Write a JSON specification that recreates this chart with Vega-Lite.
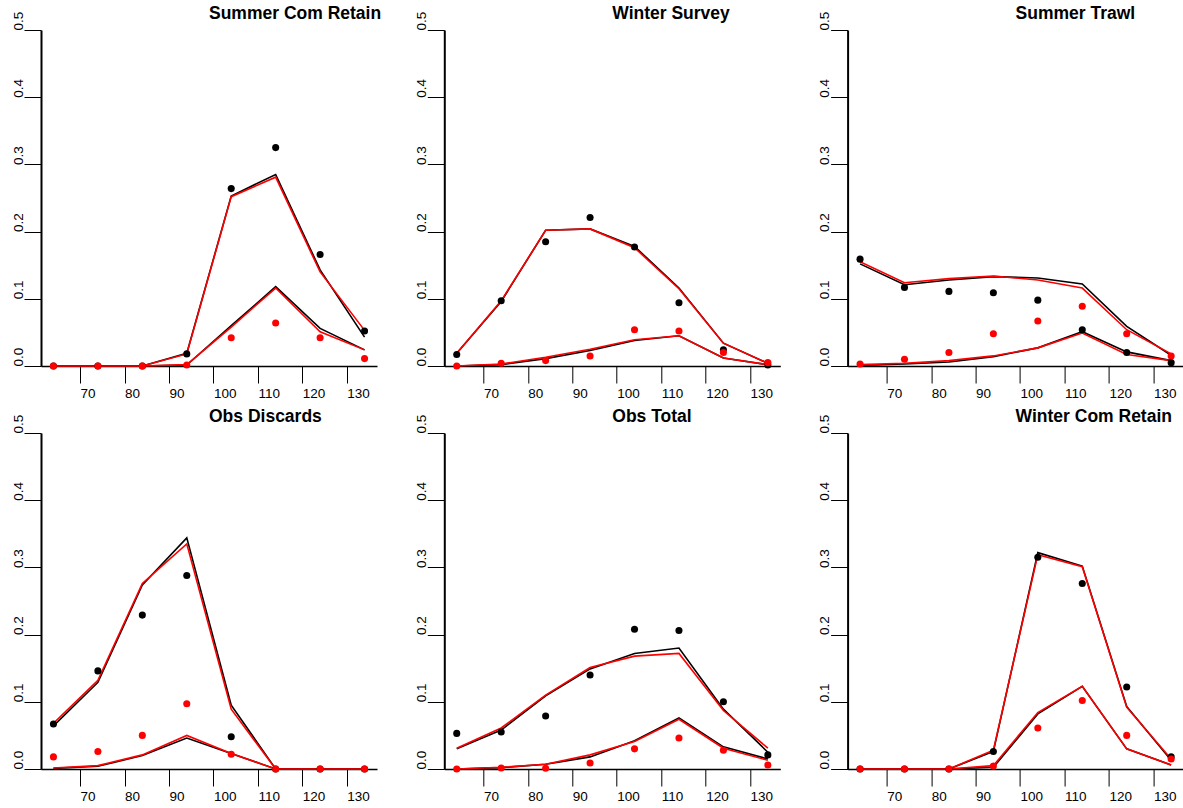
{
  "$schema": "https://vega.github.io/schema/vega-lite/v6.json",
  "background": "white",
  "padding": {"left": 10, "top": 4, "right": 0, "bottom": 0},
  "data": {
    "values": [
      {"panel": "Summer Com Retain", "set": 1, "len": 64, "obs": 0, "hi": 0, "lo": 0},
      {"panel": "Summer Com Retain", "set": 1, "len": 74, "obs": 0, "hi": 0, "lo": 0},
      {"panel": "Summer Com Retain", "set": 1, "len": 84, "obs": 0, "hi": 0, "lo": 0},
      {"panel": "Summer Com Retain", "set": 1, "len": 94, "obs": 0.018, "hi": 0.019, "lo": 0.0015},
      {"panel": "Summer Com Retain", "set": 1, "len": 104, "obs": 0.264, "hi": 0.253, "lo": 0.06},
      {"panel": "Summer Com Retain", "set": 1, "len": 114, "obs": 0.325, "hi": 0.285, "lo": 0.118},
      {"panel": "Summer Com Retain", "set": 1, "len": 124, "obs": 0.166, "hi": 0.143, "lo": 0.056},
      {"panel": "Summer Com Retain", "set": 1, "len": 134, "obs": 0.052, "hi": 0.043, "lo": 0.024},
      {"panel": "Summer Com Retain", "set": 2, "len": 64, "obs": 0, "hi": 0, "lo": 0},
      {"panel": "Summer Com Retain", "set": 2, "len": 74, "obs": 0, "hi": 0, "lo": 0},
      {"panel": "Summer Com Retain", "set": 2, "len": 84, "obs": 0, "hi": 0, "lo": 0},
      {"panel": "Summer Com Retain", "set": 2, "len": 94, "obs": 0.0015, "hi": 0.018, "lo": 0.002},
      {"panel": "Summer Com Retain", "set": 2, "len": 104, "obs": 0.042, "hi": 0.252, "lo": 0.058},
      {"panel": "Summer Com Retain", "set": 2, "len": 114, "obs": 0.064, "hi": 0.281, "lo": 0.116},
      {"panel": "Summer Com Retain", "set": 2, "len": 124, "obs": 0.042, "hi": 0.14, "lo": 0.051},
      {"panel": "Summer Com Retain", "set": 2, "len": 134, "obs": 0.011, "hi": 0.053, "lo": 0.024},

      {"panel": "Winter Survey", "set": 1, "len": 64, "obs": 0.017, "hi": 0.019, "lo": 0},
      {"panel": "Winter Survey", "set": 1, "len": 74, "obs": 0.097, "hi": 0.096, "lo": 0.002},
      {"panel": "Winter Survey", "set": 1, "len": 84, "obs": 0.185, "hi": 0.202, "lo": 0.011},
      {"panel": "Winter Survey", "set": 1, "len": 94, "obs": 0.221, "hi": 0.204, "lo": 0.023},
      {"panel": "Winter Survey", "set": 1, "len": 104, "obs": 0.177, "hi": 0.178, "lo": 0.038},
      {"panel": "Winter Survey", "set": 1, "len": 114, "obs": 0.094, "hi": 0.116, "lo": 0.045},
      {"panel": "Winter Survey", "set": 1, "len": 124, "obs": 0.024, "hi": 0.034, "lo": 0.012},
      {"panel": "Winter Survey", "set": 1, "len": 134, "obs": 0.0015, "hi": 0.004, "lo": 0.002},
      {"panel": "Winter Survey", "set": 2, "len": 64, "obs": 0, "hi": 0.019, "lo": 0},
      {"panel": "Winter Survey", "set": 2, "len": 74, "obs": 0.004, "hi": 0.097, "lo": 0.003},
      {"panel": "Winter Survey", "set": 2, "len": 84, "obs": 0.008, "hi": 0.202, "lo": 0.013},
      {"panel": "Winter Survey", "set": 2, "len": 94, "obs": 0.015, "hi": 0.204, "lo": 0.025},
      {"panel": "Winter Survey", "set": 2, "len": 104, "obs": 0.054, "hi": 0.176, "lo": 0.039},
      {"panel": "Winter Survey", "set": 2, "len": 114, "obs": 0.052, "hi": 0.115, "lo": 0.045},
      {"panel": "Winter Survey", "set": 2, "len": 124, "obs": 0.02, "hi": 0.034, "lo": 0.012},
      {"panel": "Winter Survey", "set": 2, "len": 134, "obs": 0.005, "hi": 0.004, "lo": 0.002},

      {"panel": "Summer Trawl", "set": 1, "len": 64, "obs": 0.159, "hi": 0.152, "lo": 0.001},
      {"panel": "Summer Trawl", "set": 1, "len": 74, "obs": 0.117, "hi": 0.121, "lo": 0.003},
      {"panel": "Summer Trawl", "set": 1, "len": 84, "obs": 0.111, "hi": 0.128, "lo": 0.006},
      {"panel": "Summer Trawl", "set": 1, "len": 94, "obs": 0.109, "hi": 0.133, "lo": 0.014},
      {"panel": "Summer Trawl", "set": 1, "len": 104, "obs": 0.098, "hi": 0.131, "lo": 0.027},
      {"panel": "Summer Trawl", "set": 1, "len": 114, "obs": 0.054, "hi": 0.122, "lo": 0.051},
      {"panel": "Summer Trawl", "set": 1, "len": 124, "obs": 0.02, "hi": 0.059, "lo": 0.021},
      {"panel": "Summer Trawl", "set": 1, "len": 134, "obs": 0.005, "hi": 0.016, "lo": 0.008},
      {"panel": "Summer Trawl", "set": 2, "len": 64, "obs": 0.003, "hi": 0.155, "lo": 0.002},
      {"panel": "Summer Trawl", "set": 2, "len": 74, "obs": 0.01, "hi": 0.124, "lo": 0.004},
      {"panel": "Summer Trawl", "set": 2, "len": 84, "obs": 0.02, "hi": 0.13, "lo": 0.008},
      {"panel": "Summer Trawl", "set": 2, "len": 94, "obs": 0.048, "hi": 0.134, "lo": 0.015},
      {"panel": "Summer Trawl", "set": 2, "len": 104, "obs": 0.067, "hi": 0.128, "lo": 0.027},
      {"panel": "Summer Trawl", "set": 2, "len": 114, "obs": 0.089, "hi": 0.116, "lo": 0.049},
      {"panel": "Summer Trawl", "set": 2, "len": 124, "obs": 0.048, "hi": 0.054, "lo": 0.017},
      {"panel": "Summer Trawl", "set": 2, "len": 134, "obs": 0.015, "hi": 0.018, "lo": 0.008},

      {"panel": "Obs Discards", "set": 1, "len": 64, "obs": 0.067, "hi": 0.064, "lo": 0.001},
      {"panel": "Obs Discards", "set": 1, "len": 74, "obs": 0.146, "hi": 0.129, "lo": 0.004},
      {"panel": "Obs Discards", "set": 1, "len": 84, "obs": 0.229, "hi": 0.274, "lo": 0.02},
      {"panel": "Obs Discards", "set": 1, "len": 94, "obs": 0.288, "hi": 0.344, "lo": 0.046},
      {"panel": "Obs Discards", "set": 1, "len": 104, "obs": 0.048, "hi": 0.095, "lo": 0.023},
      {"panel": "Obs Discards", "set": 1, "len": 114, "obs": 0, "hi": 0, "lo": 0},
      {"panel": "Obs Discards", "set": 1, "len": 124, "obs": 0, "hi": 0, "lo": 0},
      {"panel": "Obs Discards", "set": 1, "len": 134, "obs": 0, "hi": 0, "lo": 0},
      {"panel": "Obs Discards", "set": 2, "len": 64, "obs": 0.018, "hi": 0.068, "lo": 0.0015},
      {"panel": "Obs Discards", "set": 2, "len": 74, "obs": 0.026, "hi": 0.132, "lo": 0.005},
      {"panel": "Obs Discards", "set": 2, "len": 84, "obs": 0.05, "hi": 0.276, "lo": 0.021},
      {"panel": "Obs Discards", "set": 2, "len": 94, "obs": 0.097, "hi": 0.335, "lo": 0.05},
      {"panel": "Obs Discards", "set": 2, "len": 104, "obs": 0.022, "hi": 0.089, "lo": 0.023},
      {"panel": "Obs Discards", "set": 2, "len": 114, "obs": 0, "hi": 0, "lo": 0},
      {"panel": "Obs Discards", "set": 2, "len": 124, "obs": 0, "hi": 0, "lo": 0},
      {"panel": "Obs Discards", "set": 2, "len": 134, "obs": 0, "hi": 0, "lo": 0},

      {"panel": "Obs Total", "set": 1, "len": 64, "obs": 0.053, "hi": 0.03, "lo": 0},
      {"panel": "Obs Total", "set": 1, "len": 74, "obs": 0.055, "hi": 0.058, "lo": 0.002},
      {"panel": "Obs Total", "set": 1, "len": 84, "obs": 0.079, "hi": 0.109, "lo": 0.007},
      {"panel": "Obs Total", "set": 1, "len": 94, "obs": 0.14, "hi": 0.149, "lo": 0.018},
      {"panel": "Obs Total", "set": 1, "len": 104, "obs": 0.208, "hi": 0.172, "lo": 0.042},
      {"panel": "Obs Total", "set": 1, "len": 114, "obs": 0.206, "hi": 0.18, "lo": 0.076},
      {"panel": "Obs Total", "set": 1, "len": 124, "obs": 0.1, "hi": 0.089, "lo": 0.033},
      {"panel": "Obs Total", "set": 1, "len": 134, "obs": 0.021, "hi": 0.025, "lo": 0.015},
      {"panel": "Obs Total", "set": 2, "len": 64, "obs": 0, "hi": 0.031, "lo": 0},
      {"panel": "Obs Total", "set": 2, "len": 74, "obs": 0.0015, "hi": 0.061, "lo": 0.0025},
      {"panel": "Obs Total", "set": 2, "len": 84, "obs": 0.001, "hi": 0.11, "lo": 0.007},
      {"panel": "Obs Total", "set": 2, "len": 94, "obs": 0.009, "hi": 0.151, "lo": 0.021},
      {"panel": "Obs Total", "set": 2, "len": 104, "obs": 0.03, "hi": 0.168, "lo": 0.041},
      {"panel": "Obs Total", "set": 2, "len": 114, "obs": 0.046, "hi": 0.172, "lo": 0.074},
      {"panel": "Obs Total", "set": 2, "len": 124, "obs": 0.028, "hi": 0.087, "lo": 0.031},
      {"panel": "Obs Total", "set": 2, "len": 134, "obs": 0.006, "hi": 0.031, "lo": 0.013},

      {"panel": "Winter Com Retain", "set": 1, "len": 64, "obs": 0, "hi": 0, "lo": 0},
      {"panel": "Winter Com Retain", "set": 1, "len": 74, "obs": 0, "hi": 0, "lo": 0},
      {"panel": "Winter Com Retain", "set": 1, "len": 84, "obs": 0, "hi": 0, "lo": 0},
      {"panel": "Winter Com Retain", "set": 1, "len": 94, "obs": 0.026, "hi": 0.026, "lo": 0.0025},
      {"panel": "Winter Com Retain", "set": 1, "len": 104, "obs": 0.315, "hi": 0.322, "lo": 0.082},
      {"panel": "Winter Com Retain", "set": 1, "len": 114, "obs": 0.276, "hi": 0.302, "lo": 0.123},
      {"panel": "Winter Com Retain", "set": 1, "len": 124, "obs": 0.122, "hi": 0.093, "lo": 0.03},
      {"panel": "Winter Com Retain", "set": 1, "len": 134, "obs": 0.018, "hi": 0.013, "lo": 0.006},
      {"panel": "Winter Com Retain", "set": 2, "len": 64, "obs": 0, "hi": 0, "lo": 0},
      {"panel": "Winter Com Retain", "set": 2, "len": 74, "obs": 0, "hi": 0, "lo": 0},
      {"panel": "Winter Com Retain", "set": 2, "len": 84, "obs": 0, "hi": 0, "lo": 0},
      {"panel": "Winter Com Retain", "set": 2, "len": 94, "obs": 0.0045, "hi": 0.028, "lo": 0.005},
      {"panel": "Winter Com Retain", "set": 2, "len": 104, "obs": 0.061, "hi": 0.319, "lo": 0.084},
      {"panel": "Winter Com Retain", "set": 2, "len": 114, "obs": 0.102, "hi": 0.301, "lo": 0.123},
      {"panel": "Winter Com Retain", "set": 2, "len": 124, "obs": 0.05, "hi": 0.092, "lo": 0.03},
      {"panel": "Winter Com Retain", "set": 2, "len": 134, "obs": 0.015, "hi": 0.015, "lo": 0.006}
    ]
  },
  "columns": 3,
  "spacing": {"row": 67, "column": 67.3},
  "bounds": "flush",
  "concat": [
    {
      "title": {"text": "Summer Com Retain"},
      "transform": [{"filter": "datum.panel === 'Summer Com Retain'"}],
      "encoding": {
        "x": {"field": "len", "type": "quantitative", "title": null, "scale": {"domain": [61.2, 136.8], "nice": false, "zero": false}, "axis": {"values": [70, 80, 90, 100, 110, 120, 130]}},
        "color": {"field": "set", "type": "nominal", "scale": {"domain": [1, 2], "range": ["#000000", "#ff0000"]}, "legend": null}
      },
      "layer": [
        {"mark": "line", "encoding": {"y": {"field": "hi", "type": "quantitative", "title": null, "scale": {"domain": [0, 0.5], "nice": false}, "axis": {"values": [0, 0.1, 0.2, 0.3, 0.4, 0.5], "format": ".1f"}}}},
        {"mark": "line", "encoding": {"y": {"field": "lo", "type": "quantitative", "title": null}}},
        {"mark": "point", "encoding": {"y": {"field": "obs", "type": "quantitative", "title": null}}}
      ]
    },
    {
      "title": {"text": "Winter Survey"},
      "transform": [{"filter": "datum.panel === 'Winter Survey'"}],
      "encoding": {
        "x": {"field": "len", "type": "quantitative", "title": null, "scale": {"domain": [61.2, 136.8], "nice": false, "zero": false}, "axis": {"values": [70, 80, 90, 100, 110, 120, 130]}},
        "color": {"field": "set", "type": "nominal", "scale": {"domain": [1, 2], "range": ["#000000", "#ff0000"]}, "legend": null}
      },
      "layer": [
        {"mark": "line", "encoding": {"y": {"field": "hi", "type": "quantitative", "title": null, "scale": {"domain": [0, 0.5], "nice": false}, "axis": {"values": [0, 0.1, 0.2, 0.3, 0.4, 0.5], "format": ".1f"}}}},
        {"mark": "line", "encoding": {"y": {"field": "lo", "type": "quantitative", "title": null}}},
        {"mark": "point", "encoding": {"y": {"field": "obs", "type": "quantitative", "title": null}}}
      ]
    },
    {
      "title": {"text": "Summer Trawl"},
      "transform": [{"filter": "datum.panel === 'Summer Trawl'"}],
      "encoding": {
        "x": {"field": "len", "type": "quantitative", "title": null, "scale": {"domain": [61.2, 136.8], "nice": false, "zero": false}, "axis": {"values": [70, 80, 90, 100, 110, 120, 130]}},
        "color": {"field": "set", "type": "nominal", "scale": {"domain": [1, 2], "range": ["#000000", "#ff0000"]}, "legend": null}
      },
      "layer": [
        {"mark": "line", "encoding": {"y": {"field": "hi", "type": "quantitative", "title": null, "scale": {"domain": [0, 0.5], "nice": false}, "axis": {"values": [0, 0.1, 0.2, 0.3, 0.4, 0.5], "format": ".1f"}}}},
        {"mark": "line", "encoding": {"y": {"field": "lo", "type": "quantitative", "title": null}}},
        {"mark": "point", "encoding": {"y": {"field": "obs", "type": "quantitative", "title": null}}}
      ]
    },
    {
      "title": {"text": "Obs Discards"},
      "transform": [{"filter": "datum.panel === 'Obs Discards'"}],
      "encoding": {
        "x": {"field": "len", "type": "quantitative", "title": null, "scale": {"domain": [61.2, 136.8], "nice": false, "zero": false}, "axis": {"values": [70, 80, 90, 100, 110, 120, 130]}},
        "color": {"field": "set", "type": "nominal", "scale": {"domain": [1, 2], "range": ["#000000", "#ff0000"]}, "legend": null}
      },
      "layer": [
        {"mark": "line", "encoding": {"y": {"field": "hi", "type": "quantitative", "title": null, "scale": {"domain": [0, 0.5], "nice": false}, "axis": {"values": [0, 0.1, 0.2, 0.3, 0.4, 0.5], "format": ".1f"}}}},
        {"mark": "line", "encoding": {"y": {"field": "lo", "type": "quantitative", "title": null}}},
        {"mark": "point", "encoding": {"y": {"field": "obs", "type": "quantitative", "title": null}}}
      ]
    },
    {
      "title": {"text": "Obs Total"},
      "transform": [{"filter": "datum.panel === 'Obs Total'"}],
      "encoding": {
        "x": {"field": "len", "type": "quantitative", "title": null, "scale": {"domain": [61.2, 136.8], "nice": false, "zero": false}, "axis": {"values": [70, 80, 90, 100, 110, 120, 130]}},
        "color": {"field": "set", "type": "nominal", "scale": {"domain": [1, 2], "range": ["#000000", "#ff0000"]}, "legend": null}
      },
      "layer": [
        {"mark": "line", "encoding": {"y": {"field": "hi", "type": "quantitative", "title": null, "scale": {"domain": [0, 0.5], "nice": false}, "axis": {"values": [0, 0.1, 0.2, 0.3, 0.4, 0.5], "format": ".1f"}}}},
        {"mark": "line", "encoding": {"y": {"field": "lo", "type": "quantitative", "title": null}}},
        {"mark": "point", "encoding": {"y": {"field": "obs", "type": "quantitative", "title": null}}}
      ]
    },
    {
      "title": {"text": "Winter Com Retain"},
      "transform": [{"filter": "datum.panel === 'Winter Com Retain'"}],
      "encoding": {
        "x": {"field": "len", "type": "quantitative", "title": null, "scale": {"domain": [61.2, 136.8], "nice": false, "zero": false}, "axis": {"values": [70, 80, 90, 100, 110, 120, 130]}},
        "color": {"field": "set", "type": "nominal", "scale": {"domain": [1, 2], "range": ["#000000", "#ff0000"]}, "legend": null}
      },
      "layer": [
        {"mark": "line", "encoding": {"y": {"field": "hi", "type": "quantitative", "title": null, "scale": {"domain": [0, 0.5], "nice": false}, "axis": {"values": [0, 0.1, 0.2, 0.3, 0.4, 0.5], "format": ".1f"}}}},
        {"mark": "line", "encoding": {"y": {"field": "lo", "type": "quantitative", "title": null}}},
        {"mark": "point", "encoding": {"y": {"field": "obs", "type": "quantitative", "title": null}}}
      ]
    }
  ],
  "config": {
    "view": {"continuousWidth": 336, "continuousHeight": 336, "stroke": null},
    "font": "Liberation Sans",
    "axis": {"grid": false, "labelFlush": false, "labelOverlap": false},
    "axisX": {
      "domainColor": "#000000", "domainWidth": 1.5,
      "tickColor": "#000000", "tickSize": 17, "tickWidth": 1,
      "labelColor": "#000000", "labelFont": "Liberation Sans", "labelFontSize": 13.5,
      "labelAngle": 0, "labelAlign": "left", "labelBaseline": "top", "labelPadding": 3
    },
    "axisY": {
      "domainColor": "#000000", "domainWidth": 2,
      "tickColor": "#000000", "tickSize": 17, "tickWidth": 1,
      "labelColor": "#000000", "labelFont": "Liberation Sans", "labelFontSize": 13.5,
      "labelAngle": 270, "labelAlign": "left", "labelBaseline": "alphabetic", "labelPadding": 2
    },
    "title": {"font": "Liberation Sans", "fontSize": 17.5, "fontWeight": "bold", "color": "#000000", "anchor": "start", "dx": 168, "frame": "group", "baseline": "alphabetic", "offset": -11},
    "line": {"strokeWidth": 1.6},
    "point": {"filled": true, "size": 50, "opacity": 1}
  }
}
